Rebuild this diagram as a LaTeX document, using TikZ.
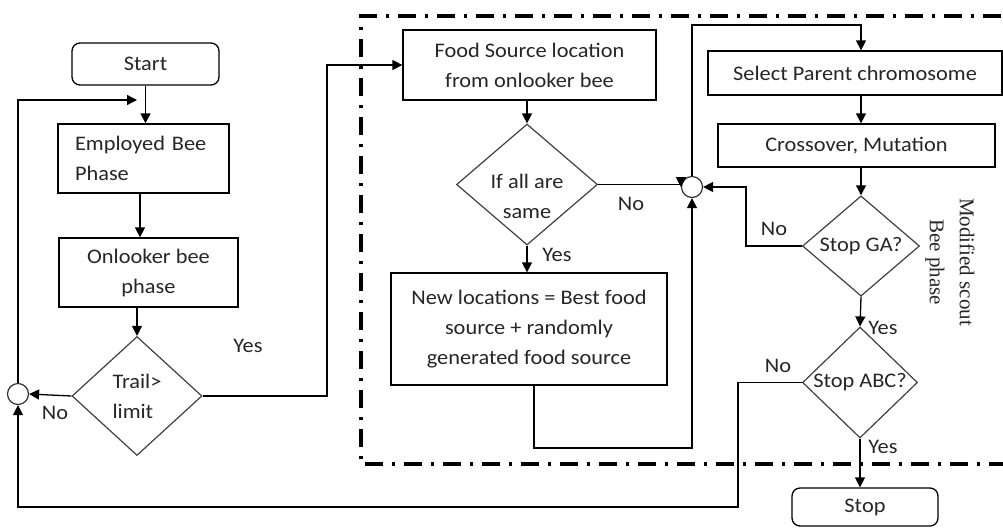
\documentclass[tikz,border=0pt]{standalone}
\usepackage{fontspec}
\setmainfont{Carlito}[FakeStretch=1.08]
\newfontfamily\rotserif{Liberation Serif}
\usetikzlibrary{shapes.geometric,arrows.meta}
\begin{document}
\begin{tikzpicture}[x=1pt,y=-1pt,
  every node/.style={font=\fontsize{20.7}{30}\selectfont, text=black!85},
  box/.style={draw=black, line width=1.3pt, inner sep=0pt, align=center},
  rbox/.style={box, rounded corners=8pt},
  dec/.style={diamond, draw=black!75, line width=1.2pt, inner sep=0pt, aspect=1},
  junc/.style={circle, draw=black!80, line width=1.2pt, minimum size=21pt, inner sep=0pt},
  conn/.style={line width=1.3pt},
  arr/.style={conn, -{Triangle[length=10pt,width=10pt]}},
  lbl/.style={inner sep=0pt},
  frame/.style={line width=3.5pt, dash pattern=on 18pt off 9pt on 3pt off 9pt}
]
\useasboundingbox (0,0) rectangle (1003,528);
\clip (0,0) rectangle (1003,528);

% dash-dotted frame of the modified scout bee phase
\draw[frame] (1040,16) -- (361,16) -- (361,464) -- (1040,464);

% nodes
\node[rbox, minimum width=147pt, minimum height=42pt] (start) at (145.5,64) {Start};
\node[box, minimum width=171pt, minimum height=69pt, text width=137pt, align=left] (emp) at (143.5,158.5) {Employed Bee\\Phase};
\node[box, minimum width=179pt, minimum height=69pt] (onl) at (148.5,272.5) {Onlooker bee\\phase};
\node[dec, minimum width=130pt, minimum height=119pt, align=left] (trail) at (137,396) {Trail>\\limit};
\node[junc] (cl) at (18,394) {};

\node[box, minimum width=253pt, minimum height=70pt] (food) at (529.5,65) {Food Source location\\from onlooker bee};
\node[dec, minimum width=141pt, minimum height=121pt,
  label={[align=center, yshift=-12pt]center:If all are\\same}] (same) at (527,184.5) {};
\node[box, minimum width=276pt, minimum height=112pt] (new) at (529,329) {New locations = Best food\\source + randomly\\generated food source};
\node[junc] (cr) at (692,187) {};

\node[box, minimum width=294pt, minimum height=44pt] (sel) at (855,73) {Select Parent chromosome};
\node[box, minimum width=277pt, minimum height=43pt] (cross) at (856.5,145.5) {Crossover, Mutation};
\node[dec, minimum width=117pt, minimum height=96pt] (ga) at (861,246) {Stop GA?};
\node[dec, minimum width=115pt, minimum height=95pt] (abc) at (860,382.5) {Stop ABC?};
\node[rbox, minimum width=146pt, minimum height=38pt] (stop) at (865,507) {Stop};

\node[lbl, rotate=-90, align=center, font=\rotserif\fontsize{21}{30}\selectfont] (scout) at (950,262) {Modified scout\\Bee phase};

% labels
\node[lbl] (ytrail) at (248,346) {Yes};
\node[lbl] (ntrail) at (55,413) {No};
\node[lbl] (nsame) at (631,204) {No};
\node[lbl] (ysame) at (557,255) {Yes};
\node[lbl] (nga) at (774,229) {No};
\node[lbl] (yga) at (883,328) {Yes};
\node[lbl] (nabc) at (778,366) {No};
\node[lbl] (yabc) at (883,447) {Yes};

% helper coordinates
\coordinate (j1) at (137,100);
\coordinate (x140) at (140,0);
\coordinate (x327) at (327,0);
\coordinate (y448) at (0,448);
\coordinate (y25) at (0,25);
\coordinate (x861) at (861,0);
\coordinate (x746) at (746,0);
\coordinate (x738) at (738,0);
\coordinate (y507) at (0,507);

% connectors
\draw[arr] (start.south) -- (start.south |- emp.north);
\draw[arr] (emp.south -| x140) -- (onl.north -| x140);
\draw[arr] (onl.south -| trail.north) -- (trail.north);
\draw[arr] (trail.west) -- (cl.east);
\draw[arr] (cl.north) -- (cl.north |- j1) -- (j1);
\draw[arr] (trail.east) -- (trail.east -| x327) -- (x327 |- food.west) -- (food.west);
\draw[arr] (food.south -| same.north) -- (same.north);
\draw[arr] (same.east) -- (same.east -| cr.west) -- (cr.west);
\draw[arr] (same.south) -- (same.south |- new.north);
\draw[arr] (new.south -| 534,0) -- (534,448) -- (cr.south |- y448) -- (cr.south);
\draw[arr] (cr.north) -- (cr.north |- y25) -- (x861 |- y25) -- (sel.north -| x861);
\draw[arr] (sel.south -| x861) -- (cross.north -| x861);
\draw[arr] (cross.south -| ga.north) -- (ga.north);
\draw[arr] (ga.west) -- (ga.west -| x746) -- (x746 |- cr.east) -- (cr.east);
\draw[arr] (ga.south) -- (abc.north);
\draw[arr] (abc.west) -- (abc.west -| x738) -- (x738 |- y507) -- (cl.south |- y507) -- (cl.south);
\draw[arr] (abc.south) -- (abc.south |- stop.north);
\end{tikzpicture}
\end{document}
